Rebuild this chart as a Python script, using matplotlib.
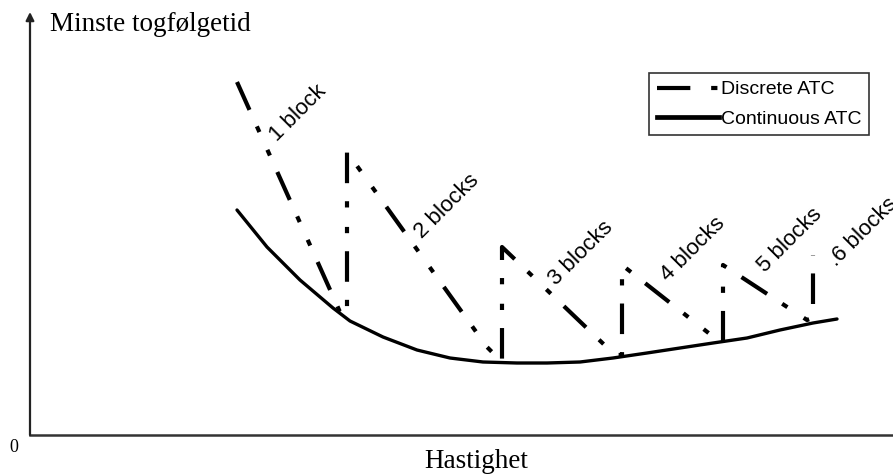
import matplotlib.pyplot as plt
from matplotlib.lines import Line2D

plt.rcParams['lines.scale_dashes'] = False

# values (x = speed units, y = headway units, origin at axis corner)
cont_x = [207, 237, 270, 303, 320, 353, 387, 420, 453, 487, 517, 550, 583, 617,
          650, 683, 717, 750, 783, 807]
cont_y = [225, 188, 155, 127, 114, 98, 85, 77, 73, 72, 72, 73, 77, 82,
          87, 92, 97, 105, 112, 116]

disc_x = [207, 310, 317, 317, 457, 472, 472, 585, 592, 592, 690, 693, 693, 777, 783, 783]
disc_y = [353, 123, 118, 283, 88, 73, 188, 80, 80, 170, 93, 93, 170, 115, 117, 180]

block_labels = ['1 block', '2 blocks', '3 blocks', '4 blocks', '5 blocks', '.6 blocks']
label_x = [247, 392, 526, 638, 735, 806]
label_y = [293, 196, 149, 153, 162, 168]

fig = plt.figure(figsize=(8.93, 4.74), dpi=100)
ax = fig.add_axes([30 / 893, 39 / 474, 863 / 893, 415 / 474])
ax.set_xlim(0, 863)
ax.set_ylim(0, 415)
ax.axis('off')

# axes drawn by hand (arrow on the y axis)
ax.annotate('', xy=(0, 423 / 415), xytext=(0, 0), xycoords='axes fraction',
            arrowprops=dict(arrowstyle='-|>', lw=1.6, color='#222222',
                            mutation_scale=12, shrinkA=0, shrinkB=0))
ax.plot([0, 1], [0, 0], transform=ax.transAxes, color='#333333', lw=1.8,
        clip_on=False)

ax.plot(cont_x, cont_y, color='black', lw=2.4, solid_capstyle='round',
        solid_joinstyle='round')
ax.plot(disc_x, disc_y, color='black', lw=3.0,
        dashes=(22, 13, 4.5, 14, 4.5, 13), dash_capstyle='butt')

for txt, x, y in zip(block_labels, label_x, label_y):
    ax.text(x, y, txt, rotation=45, rotation_mode='anchor', ha='left', va='baseline',
            fontsize=16, family='Liberation Sans', clip_on=False)

fig.text(50 / 893, 1 - 31 / 474, 'Minste togfølgetid', fontsize=19.5,
         family='Liberation Serif', ha='left', va='baseline')
fig.text(14 / 893, 1 - 448 / 474, '0', fontsize=13, family='Liberation Serif',
         ha='center', va='center')
fig.text(476 / 893, 1 - 468 / 474, 'Hastighet', fontsize=19.5,
         family='Liberation Serif', ha='center', va='baseline')

handles = [Line2D([], [], color='black', lw=3.0, dashes=(24, 15, 4.5, 15)),
           Line2D([], [], color='black', lw=3.4)]
leg = ax.legend(handles, ['Discrete ATC', 'Continuous ATC'],
                loc='upper right', bbox_to_anchor=(869 / 893, 1 - 73 / 474),
                bbox_transform=fig.transFigure, borderaxespad=0,
                handlelength=3.2, handletextpad=0.1, labelspacing=0.6,
                borderpad=0.4, fancybox=False, framealpha=1, edgecolor='#333333',
                prop={'family': 'Liberation Sans', 'size': 14})
leg.get_frame().set_linewidth(1.2)

fig.savefig('out.png', dpi=100)
